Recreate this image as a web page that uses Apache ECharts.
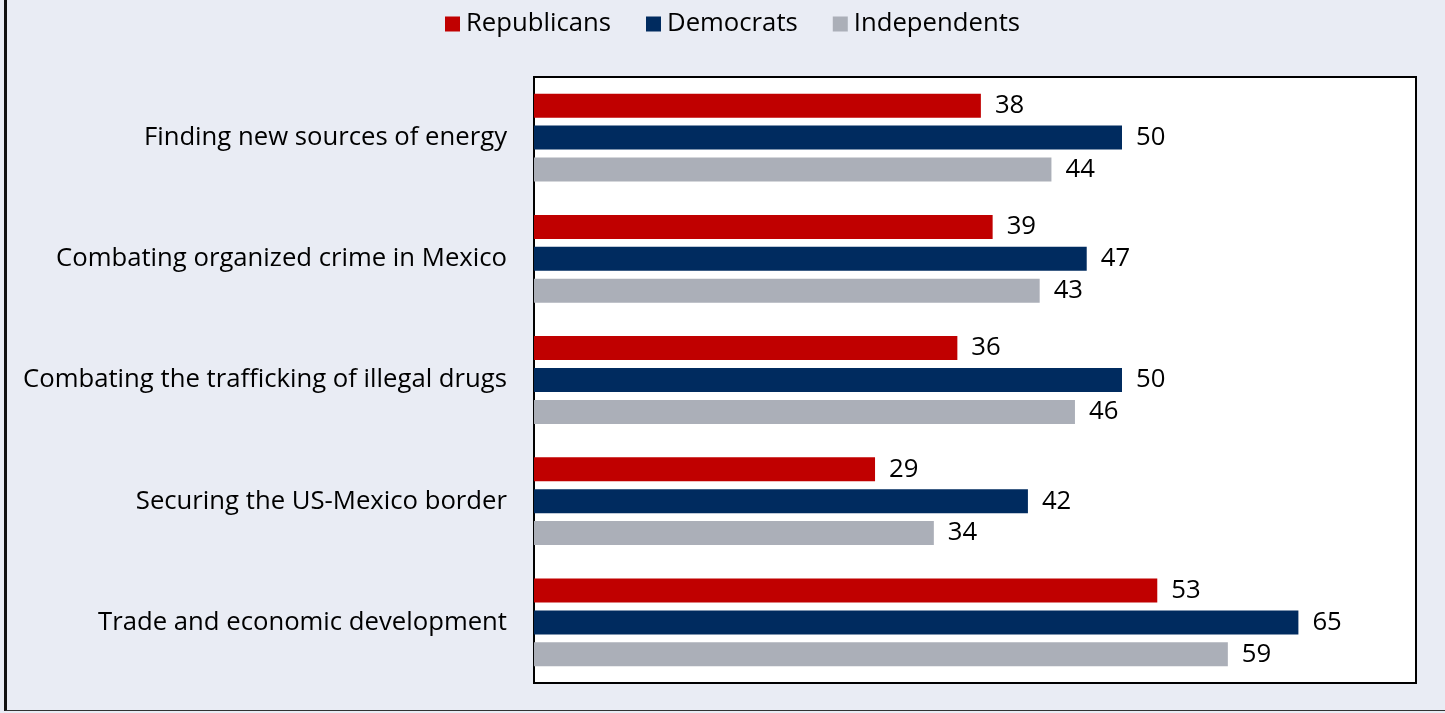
<!DOCTYPE html>
<html><head><meta charset="utf-8">
<script src="https://cdn.jsdelivr.net/npm/echarts@6/dist/echarts.min.js"></script>
<style>
html,body{margin:0;padding:0;background:#E9ECF4;}
#frame{position:absolute;left:4px;top:0;width:1438px;height:710px;border-left:3px solid #111;border-right:1px solid #333;border-bottom:1px solid #333;background:#E9ECF4;}
#chart{position:absolute;left:0;top:0;width:1445px;height:713px;}
</style></head>
<body>
<div id="frame"></div>
<div id="chart"></div>
<script>
const categories = [
  "Finding new sources of energy",
  "Combating organized crime in Mexico",
  "Combating the trafficking of illegal drugs",
  "Securing the US-Mexico border",
  "Trade and economic development"
];
const republicans = [38, 39, 36, 29, 53];
const democrats = [50, 47, 50, 42, 65];
const independents = [44, 43, 46, 34, 59];
const seriesNames = ["Republicans", "Democrats", "Independents"];

const font = "'Open Sans', sans-serif";
const fs = 25.7;
const chart = echarts.init(document.getElementById('chart'));
const lbl = {show:true, position:'right', distance:14, color:'#000', fontSize:fs, fontFamily:font};
chart.setOption({
  animation:false,
  backgroundColor:'transparent',
  legend:{
    top:6, left:440, itemWidth:15, itemHeight:15, itemGap:35,
    icon:'rect',
    textStyle:{fontSize:fs, color:'#000', fontFamily:font, padding:[0,0,0,1]},
    data:seriesNames
  },
  grid:{left:534, right:29, top:77, bottom:30, show:true, borderColor:'#000', borderWidth:2, backgroundColor:'#fff'},
  xAxis:{type:'value', min:0, max:75, show:false, splitLine:{show:false}},
  yAxis:{type:'category', data:categories, inverse:true,
    axisLine:{show:false}, axisTick:{show:false},
    axisLabel:{fontSize:fs, color:'#000', fontFamily:font, margin:27}},
  series:[
    {name:seriesNames[0], type:'bar', data:republicans, itemStyle:{color:'#C00000'}, barWidth:24, barGap:'33%', label:lbl},
    {name:seriesNames[1], type:'bar', data:democrats, itemStyle:{color:'#002B5F'}, barWidth:24, barGap:'33%', label:lbl},
    {name:seriesNames[2], type:'bar', data:independents, itemStyle:{color:'#ABAFB8'}, barWidth:24, barGap:'33%', label:lbl}
  ]
});
</script>
</body></html>
